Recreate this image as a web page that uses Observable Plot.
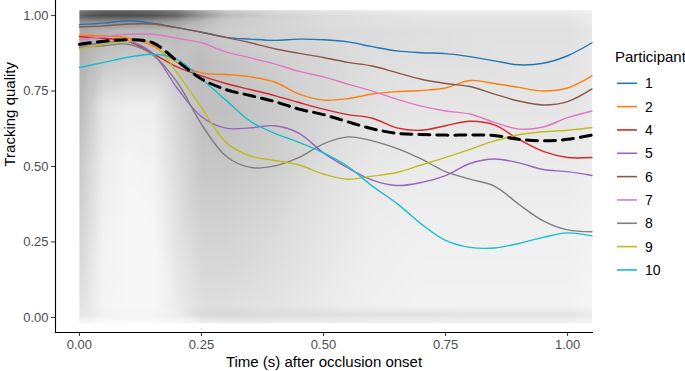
<!DOCTYPE html>
<html>
<head>
<meta charset="utf-8">
<script src="https://cdn.jsdelivr.net/npm/d3@7"></script>
<script src="https://cdn.jsdelivr.net/npm/@observablehq/plot@0.6"></script>
<style>
  html, body { margin: 0; padding: 0; background: #fff; }
  #wrap { position: relative; width: 685px; height: 371px; font-family: "Liberation Sans", Arial, Helvetica, sans-serif; }
  #legend { position: absolute; left: 0; top: 0; pointer-events: none; }
</style>
</head>
<body>
<div id="wrap"></div>
<script>
// ---- Data ----
const TIME = [0, 0.05, 0.1, 0.15, 0.2, 0.25, 0.3, 0.35, 0.4, 0.45, 0.5, 0.55, 0.6, 0.65, 0.7, 0.75, 0.8, 0.85, 0.9, 0.95, 1.0, 1.05];

const PARTICIPANTS = ["1", "2", "4", "5", "6", "7", "8", "9", "10"];
const COLORS = ["#1f77b4", "#ff7f0e", "#d62728", "#9467bd", "#8c564b", "#e377c2", "#7f7f7f", "#bcbd22", "#17becf"];

const P1  = [0.970, 0.975, 0.983, 0.975, 0.960, 0.945, 0.928, 0.922, 0.918, 0.922, 0.920, 0.913, 0.897, 0.883, 0.877, 0.874, 0.864, 0.850, 0.837, 0.842, 0.867, 0.910];
const P2  = [0.935, 0.933, 0.925, 0.900, 0.845, 0.810, 0.805, 0.797, 0.780, 0.740, 0.720, 0.725, 0.740, 0.748, 0.752, 0.760, 0.785, 0.775, 0.762, 0.750, 0.760, 0.800];
const P4  = [0.930, 0.925, 0.915, 0.875, 0.830, 0.800, 0.775, 0.755, 0.735, 0.712, 0.690, 0.672, 0.660, 0.628, 0.620, 0.635, 0.650, 0.638, 0.590, 0.550, 0.530, 0.530];
const P5  = [0.900, 0.910, 0.915, 0.875, 0.760, 0.665, 0.627, 0.628, 0.635, 0.610, 0.545, 0.495, 0.455, 0.437, 0.447, 0.470, 0.510, 0.525, 0.512, 0.490, 0.483, 0.470];
const P6  = [0.962, 0.966, 0.972, 0.972, 0.960, 0.945, 0.928, 0.910, 0.890, 0.875, 0.861, 0.845, 0.833, 0.811, 0.789, 0.775, 0.765, 0.740, 0.717, 0.704, 0.715, 0.757];
const P7  = [0.920, 0.930, 0.938, 0.938, 0.925, 0.910, 0.880, 0.860, 0.840, 0.815, 0.797, 0.773, 0.750, 0.723, 0.700, 0.684, 0.674, 0.646, 0.624, 0.631, 0.662, 0.684];
const P8  = [0.895, 0.900, 0.905, 0.870, 0.780, 0.640, 0.535, 0.497, 0.502, 0.530, 0.575, 0.598, 0.585, 0.560, 0.525, 0.483, 0.458, 0.435, 0.375, 0.320, 0.290, 0.284];
const P9  = [0.890, 0.905, 0.915, 0.910, 0.810, 0.695, 0.580, 0.535, 0.520, 0.505, 0.475, 0.458, 0.468, 0.480, 0.505, 0.530, 0.557, 0.585, 0.605, 0.615, 0.620, 0.629];
const P10 = [0.828, 0.845, 0.862, 0.872, 0.855, 0.790, 0.720, 0.650, 0.610, 0.580, 0.545, 0.500, 0.435, 0.378, 0.310, 0.255, 0.232, 0.230, 0.245, 0.265, 0.280, 0.270];
const MEAN = [0.905, 0.915, 0.920, 0.910, 0.850, 0.790, 0.755, 0.735, 0.715, 0.690, 0.672, 0.648, 0.625, 0.610, 0.606, 0.604, 0.604, 0.603, 0.590, 0.585, 0.590, 0.604];

const SERIES = [P1, P2, P4, P5, P6, P7, P8, P9, P10];

const X_TICKS = [0, 0.25, 0.5, 0.75, 1.0];
const Y_TICKS = [0, 0.25, 0.5, 0.75, 1.0];
const X_DOMAIN = [-0.049, 1.051];
const Y_DOMAIN = [-0.05, 1.05];

// Background density of all trials (opacity of black)
const BG_X = [0, 0.02, 0.05, 0.1, 0.15, 0.2, 0.25, 0.3, 0.4, 0.5, 0.6, 0.7, 0.8, 0.9, 1.0, 1.05];
const BG_Y = [-0.02, 0.008, 0.04, 0.25, 0.5, 0.7, 0.85, 0.95, 0.98, 1.0, 1.018];
const BG_A = [
  [0.03, 0.03, 0.02, 0.02, 0.02, 0.03, 0.05, 0.06, 0.06, 0.06, 0.05, 0.05, 0.05, 0.05, 0.05, 0.04],
  [0.10, 0.09, 0.05, 0.04, 0.04, 0.07, 0.15, 0.16, 0.14, 0.13, 0.12, 0.12, 0.11, 0.11, 0.11, 0.08],
  [0.12, 0.09, 0.04, 0.03, 0.03, 0.08, 0.13, 0.13, 0.11, 0.08, 0.06, 0.05, 0.05, 0.05, 0.05, 0.04],
  [0.17, 0.12, 0.05, 0.03, 0.03, 0.11, 0.17, 0.17, 0.14, 0.10, 0.07, 0.06, 0.06, 0.06, 0.06, 0.05],
  [0.22, 0.16, 0.07, 0.04, 0.05, 0.14, 0.22, 0.22, 0.19, 0.13, 0.09, 0.08, 0.08, 0.08, 0.08, 0.07],
  [0.27, 0.21, 0.10, 0.07, 0.07, 0.17, 0.25, 0.25, 0.21, 0.16, 0.12, 0.10, 0.10, 0.10, 0.10, 0.09],
  [0.31, 0.27, 0.22, 0.20, 0.20, 0.24, 0.26, 0.23, 0.19, 0.16, 0.13, 0.12, 0.12, 0.11, 0.11, 0.09],
  [0.35, 0.33, 0.30, 0.28, 0.28, 0.27, 0.24, 0.20, 0.17, 0.15, 0.14, 0.13, 0.12, 0.12, 0.12, 0.10],
  [0.45, 0.45, 0.45, 0.45, 0.43, 0.38, 0.28, 0.21, 0.17, 0.14, 0.12, 0.11, 0.11, 0.11, 0.11, 0.08],
  [0.62, 0.67, 0.70, 0.70, 0.68, 0.60, 0.42, 0.27, 0.18, 0.14, 0.12, 0.10, 0.10, 0.10, 0.10, 0.08],
  [0.50, 0.55, 0.60, 0.60, 0.57, 0.50, 0.34, 0.21, 0.14, 0.10, 0.08, 0.07, 0.07, 0.07, 0.07, 0.05]
];

// ---- Build tables ----
const lineRows = [];
PARTICIPANTS.forEach((p, k) => {
  TIME.forEach((t, i) => lineRows.push({participant: p, time: t, quality: SERIES[k][i]}));
});
const meanRows = TIME.map((t, i) => ({time: t, quality: MEAN[i]}));
const bgRows = [];
BG_Y.forEach((y, j) => BG_X.forEach((x, i) => bgRows.push({x, y, a: BG_A[j][i]})));

const FONT = '"Liberation Sans", Arial, Helvetica, sans-serif';

const chart = Plot.plot({
  width: 685,
  height: 371,
  marginLeft: 55,
  marginRight: 93,
  marginTop: 0,
  marginBottom: 39,
  style: {fontFamily: FONT, background: "white", overflow: "visible"},
  x: {domain: X_DOMAIN},
  y: {domain: Y_DOMAIN},
  color: {domain: PARTICIPANTS, range: COLORS},
  opacity: {domain: [0, 1], range: [0, 1]},
  marks: [
    Plot.raster(bgRows, {
      x: "x", y: "y", fill: "black", fillOpacity: "a",
      interpolate: "barycentric",
      x1: BG_X[0], x2: BG_X[BG_X.length - 1],
      y1: BG_Y[0], y2: BG_Y[BG_Y.length - 1],
      pixelSize: 1
    }),
    Plot.line(lineRows, {
      x: "time", y: "quality", z: "participant", stroke: "participant",
      strokeWidth: 1.4, curve: "catmull-rom"
    }),
    Plot.line(meanRows, {
      x: "time", y: "quality", stroke: "black", strokeWidth: 3,
      strokeDasharray: "11,7", curve: "catmull-rom"
    }),
    Plot.axisX({
      ticks: X_TICKS, tickFormat: d3.format(".2f"), tickSize: 4, tickPadding: 3,
      fontSize: 13, stroke: "#333", fill: "#4d4d4d", label: null, line: false
    }),
    Plot.axisY({
      ticks: Y_TICKS, tickFormat: d3.format(".2f"), tickSize: 4, tickPadding: 3,
      fontSize: 13, stroke: "#333", fill: "#4d4d4d", label: null, line: false
    }),
    Plot.frame({anchor: "bottom", stroke: "black", strokeWidth: 1.1}),
    Plot.frame({anchor: "left", stroke: "black", strokeWidth: 1.1}),
    Plot.text(["Time (s) after occlusion onset"], {
      frameAnchor: "bottom", lineAnchor: "middle", dy: 30, fontSize: 15, fill: "black"
    }),
    Plot.text(["Tracking quality"], {
      frameAnchor: "left", lineAnchor: "middle", dx: -45, rotate: -90, fontSize: 15, fill: "black"
    })
  ]
});

const wrap = document.getElementById("wrap");
wrap.appendChild(chart);

// ---- Legend (line swatches) ----
const LEG_X = 615, LEG_TITLE_Y = 57, LEG_FIRST_Y = 83.3, LEG_STEP = 23.33;
const leg = d3.select(wrap).append("svg")
  .attr("id", "legend").attr("width", 685).attr("height", 371)
  .style("font-family", FONT);
leg.append("text").attr("x", LEG_X).attr("y", LEG_TITLE_Y)
  .attr("dy", "0.35em").attr("font-size", 15).attr("fill", "black").text("Participant");
const items = leg.selectAll("g.item").data(PARTICIPANTS).join("g")
  .attr("class", "item")
  .attr("transform", (d, i) => `translate(${LEG_X + 2},${LEG_FIRST_Y + i * LEG_STEP})`);
items.append("line").attr("x1", 0).attr("x2", 20).attr("y1", 0).attr("y2", 0)
  .attr("stroke", (d, i) => COLORS[i]).attr("stroke-width", 1.6);
items.append("text").attr("x", 28).attr("y", 0).attr("dy", "0.35em")
  .attr("font-size", 14).attr("fill", "black").text(d => d);
</script>
</body>
</html>
